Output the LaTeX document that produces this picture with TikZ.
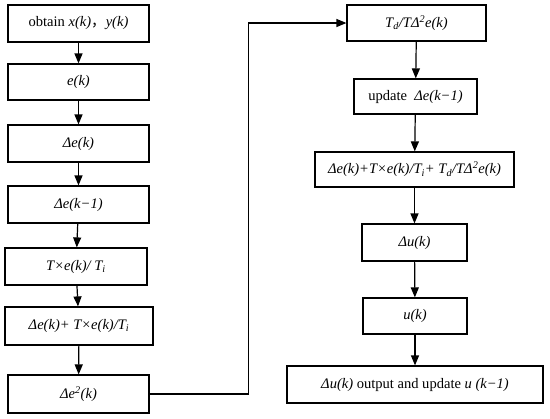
\documentclass[tikz,border=0pt]{standalone}
\usepackage{fontspec}
\setmainfont{Liberation Serif}
\newfontfamily\cjk{Noto Sans CJK SC}
\usepackage{tikz}
\usetikzlibrary{arrows.meta,positioning}

\begin{document}
\begin{tikzpicture}[x=1bp,y=-1bp,
  box/.style={draw,rectangle,line width=1.2bp,minimum width=141bp,minimum height=37bp,inner sep=0pt,font=\fontsize{14.6}{16}\selectfont,align=center},
  arr/.style={-{Triangle[length=10bp,width=8bp]},line width=1.2bp}
]
\useasboundingbox (0,0) rectangle (550,418);

% left column
\node[box] (obtain) at (78.5,23.5) {obtain \textit{x(k)}{\cjk ，}\textit{y(k)}};
\node[box,minimum height=36bp] (err) at (78.5,82) {\textit{e(k)}};
\node[box] (derr) at (78.5,143.5) {\textit{Δe(k)}};
\node[box] (derrold) at (78.5,204.5) {\textit{Δe(k−1)}};
\node[box,minimum width=142bp] (integ) at (76,266.5) {\textit{T×e(k)/ T\textsubscript{i}}};
\node[box,minimum width=148bp,minimum height=38bp] (pisum) at (79,326) {\textit{Δe(k)+ T×e(k)/T\textsubscript{i}}};
\node[box,minimum height=38bp] (derr2) at (78.5,394) {\textit{Δe\textsuperscript{2}(k)}};

% right column
\node[box,minimum width=139bp,minimum height=36bp] (diff) at (416.5,23) {\textit{T\textsubscript{d}/TΔ\textsuperscript{2}e(k)}};
\node[box,minimum width=123bp,minimum height=35bp] (upd) at (415.5,96.5) {update \ \textit{Δe(k−1)}};
\node[box,minimum width=199bp,minimum height=35bp] (pidsum) at (414.5,169.5) {\textit{Δe(k)+T×e(k)/T\textsubscript{i}+ T\textsubscript{d}/TΔ\textsuperscript{2}e(k)}};
\node[box,minimum width=105bp] (du) at (414.5,242.5) {\textit{Δu(k)}};
\node[box,minimum width=104bp,minimum height=36bp] (u) at (415,316) {\textit{u(k)}};
\node[box,minimum width=256bp] (out) at (415,384.5) {\textit{Δu(k)} output and update \textit{u (k−1)}};

% arrows
\draw[arr] (obtain) -- (err);
\draw[arr] (err) -- (derr);
\draw[arr] (derr) -- (derrold);
\draw[arr] (derrold) -- (integ);
\draw[arr] (integ) -- (pisum);
\draw[arr] (pisum) -- (derr2);
\draw[arr] (derr2.east) -- ++(99,0) |- (diff.west);
\draw[arr] (diff) -- (upd);
\draw[arr] (upd) -- (pidsum);
\draw[arr] (pidsum) -- (du);
\draw[arr] (du) -- (u);
\draw[arr] (u) -- (out);

\end{tikzpicture}
\end{document}
